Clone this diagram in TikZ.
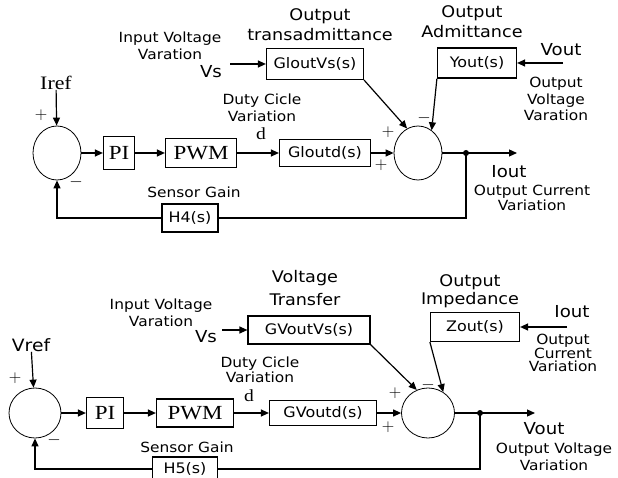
\documentclass[tikz,border=0pt]{standalone}
\usepackage{fontspec}
\setmainfont{DejaVu Sans}[FakeStretch=1.1]
\newfontfamily\rmser{Liberation Serif}[FakeStretch=1.15]
\usepackage{tikz}
\usetikzlibrary{arrows.meta,positioning,shapes.geometric}
\tikzset{
  ln/.style={line width=1.2pt},
  ar/.style={-{Triangle[length=8pt,width=7pt]},line width=1.2pt},
  box/.style={draw,line width=1.2pt,inner sep=0pt,font=\fontsize{14.5}{16}\selectfont},
  sbox/.style={box,font=\rmser\fontsize{20}{22}\selectfont},
  sumc/.style={draw,ellipse,line width=0.8pt,inner sep=0pt},
  lbl/.style={align=center,inner sep=0pt,font=\fontsize{14}{17}\selectfont},
  ttl/.style={align=center,inner sep=0pt,font=\fontsize{16}{20}\selectfont},
  sig/.style={inner sep=0pt,font=\fontsize{16.5}{17}\selectfont},
  sgn/.style={inner sep=0pt,font=\fontsize{18}{18}\selectfont}
}
\begin{document}
\begin{tikzpicture}[x=1pt,y=-1pt]
\useasboundingbox (0,0) rectangle (618,478);
% current loop
\node[sumc,minimum width=48pt,minimum height=54pt] (s1) at (57,153) {};
\node[sig,font=\rmser\fontsize{19}{20}\selectfont] (iref) at (56,83) {Iref};
\node[sbox,minimum width=31pt,minimum height=33pt] (pi1) at (119,153) {PI};
\node[sbox,minimum width=71pt,minimum height=29pt] (pwm1) at (201,153) {PWM};
\node[box,minimum width=91pt,minimum height=27pt] (god1) at (325,153) {Gloutd(s)};
\node[box,minimum width=97pt,minimum height=31pt] (gvs1) at (315,64) {GloutVs(s)};
\node[sumc,minimum width=48pt,minimum height=54pt] (s2) at (418,153) {};
\node[box,minimum width=79pt,minimum height=30pt] (yo1) at (477,63) {Yout(s)};
\node[box,minimum width=56pt,minimum height=28pt] (h4) at (190,218) {H4(s)};
\coordinate (vsin1) at (230,64);
\coordinate (voin1) at (563,63);
\coordinate (jn1) at (466,153);
\coordinate (io1) at (517,153);
\draw[ar] (iref) -- (s1);
\draw[ar] (s1) -- (pi1);
\draw[ar] (pi1) -- (pwm1);
\draw[ar] (pwm1) -- (god1);
\draw[ar] (god1) -- (s2);
\draw[ar] (vsin1) -- (gvs1);
\draw[ar] (voin1) -- (yo1);
\draw[ar] (gvs1.south east) -- (s2.114);
\draw[ar] (yo1.south west) -- (s2.59);
\draw[ln] (s2) -- (jn1);
\draw[ar] (jn1) -- (io1);
\fill (jn1) circle (3pt);
\draw[ln] (jn1) |- (h4);
\draw[ar] (h4) -| (s1);
\node[lbl] (inv1) at (170,46) {Input Voltage\\Varation};
\node[sig] (vs1) at (211,72) {Vs};
\node[ttl] (ttr1) at (320,25) {Output\\transadmittance};
\node[lbl] (dcv1) at (262,108) {Duty Cicle\\Variation};
\node[sig,font=\rmser\fontsize{17}{18}\selectfont] (d1) at (261,134) {d};
\node[ttl] (tad1) at (472,22) {Output\\Admittance};
\node[sig] (vol1) at (561,50) {Vout};
\node[lbl,font=\fontsize{14}{16.5}\selectfont] (ovv1) at (556,99) {Output\\Voltage\\Varation};
\node[sig] (iol1) at (509,172) {Iout};
\node[lbl,font=\fontsize{14}{15}\selectfont] (ocv1) at (532,198) {Output Current\\Variation};
\node[lbl] (sg1) at (194,192) {Sensor Gain};
\node[sgn] at (41,115) {$+$};
\node[sgn] at (76,182) {$-$};
\node[sgn] at (388,132) {$+$};
\node[sgn] at (381,165) {$+$};
\node[sgn] at (424,118) {$-$};
% voltage loop
\node[sumc,minimum width=52pt,minimum height=50pt] (s3) at (35,413) {};
\node[sig,font=\fontsize{17}{18}\selectfont] (vref) at (31,345) {Vref};
\node[sbox,minimum width=37pt,minimum height=31pt] (pi2) at (105,413) {PI};
\node[sbox,minimum width=77pt,minimum height=28pt] (pwm2) at (195,413) {PWM};
\node[box,minimum width=107pt,minimum height=25pt] (god2) at (323,413) {GVoutd(s)};
\node[box,minimum width=122pt,minimum height=28pt] (gvs2) at (309,330) {GVoutVs(s)};
\node[sumc,minimum width=53pt,minimum height=50pt] (s4) at (428,413) {};
\node[box,minimum width=89pt,minimum height=29pt] (zo2) at (475,327) {Zout(s)};
\node[box,minimum width=65pt,minimum height=24pt] (h5) at (185,469) {H5(s)};
\coordinate (vsin2) at (222,330);
\coordinate (ioin2) at (567,327);
\coordinate (jn2) at (480,413);
\coordinate (vo2) at (535,413);
\draw[ar] (vref) -- (s3);
\draw[ar] (s3) -- (pi2);
\draw[ar] (pi2) -- (pwm2);
\draw[ar] (pwm2) -- (god2);
\draw[ar] (god2) -- (s4);
\draw[ar] (vsin2) -- (gvs2);
\draw[ar] (ioin2) -- (zo2);
\draw[ar] (gvs2.south east) -- (s4.116);
\draw[ar] (zo2.south west) -- (s4.54);
\draw[ln] (s4) -- (jn2);
\draw[ar] (jn2) -- (vo2);
\fill (jn2) circle (3pt);
\draw[ln] (jn2) |- (h5);
\draw[ar] (h5) -| (s3);
\node[lbl] (inv2) at (161,313) {Input Voltage\\Varation};
\node[sig] (vs2) at (206,337) {Vs};
\node[ttl,font=\fontsize{16}{23}\selectfont] (tvt2) at (305,288) {Voltage\\Transfer};
\node[lbl,font=\fontsize{14}{14.5}\selectfont] (dcv2) at (260,370) {Duty Cicle\\Variation};
\node[sig,font=\rmser\fontsize{17}{18}\selectfont] (d2) at (249,396) {d};
\node[ttl,font=\fontsize{16}{18}\selectfont] (tim2) at (470,291) {Output\\Impedance};
\node[sig] (iol2) at (572,312) {Iout};
\node[lbl,font=\fontsize{14}{12.5}\selectfont] (ocv2) at (563,353) {Output\\Current\\Variation};
\node[sig] (vol2) at (544,429) {Vout};
\node[lbl,font=\fontsize{14}{17}\selectfont] (ovv2) at (554,457) {Output Voltage\\Variation};
\node[lbl] (sg2) at (187,447) {Sensor Gain};
\node[sgn] at (15,378) {$+$};
\node[sgn] at (54,440) {$-$};
\node[sgn] at (395,393) {$+$};
\node[sgn] at (388,427) {$+$};
\node[sgn] at (428,385) {$-$};
\end{tikzpicture}
\end{document}
